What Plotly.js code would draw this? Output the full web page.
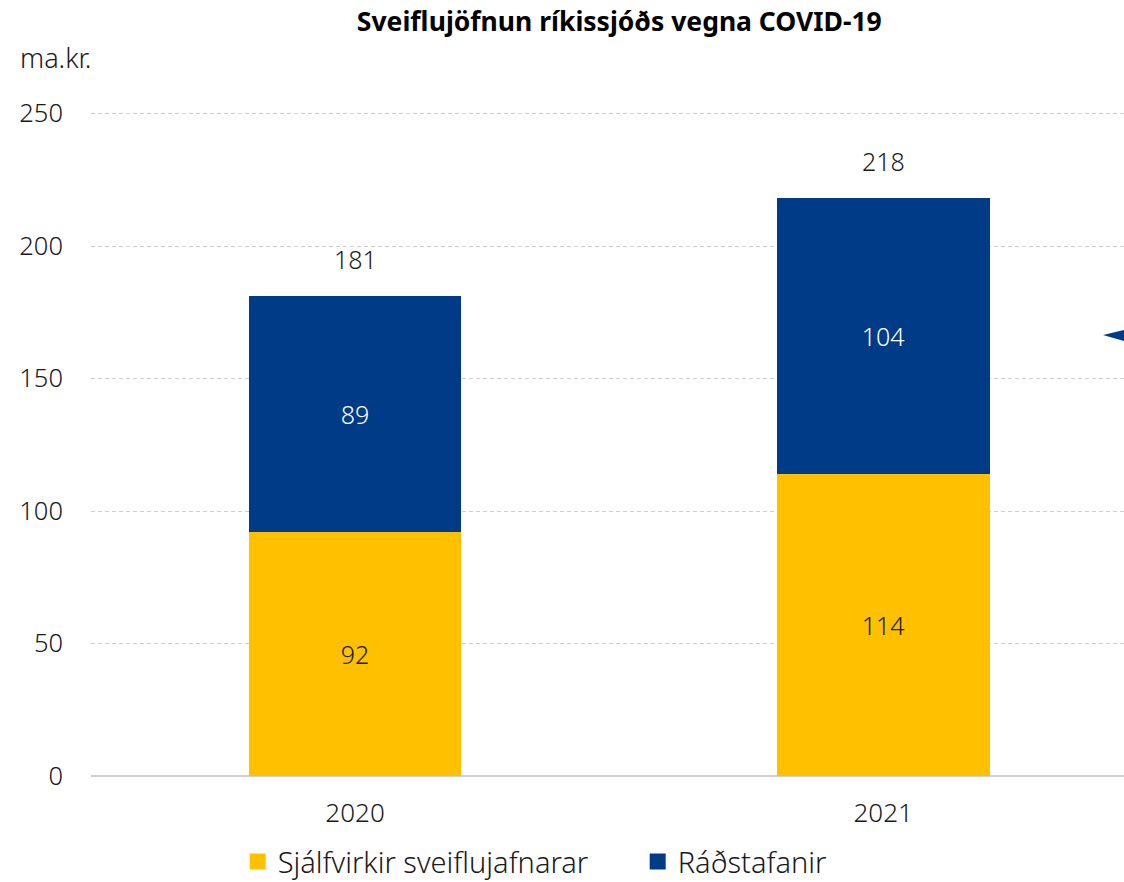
<!DOCTYPE html>
<html>
<head>
<meta charset="utf-8">
<script src="https://cdn.plot.ly/plotly-3.0.1.min.js"></script>
<style>body{margin:0;background:#fff;} #chart{width:1124px;height:882px;}</style>
</head>
<body>
<div id="chart"></div>
<script>
const years = ["2020", "2021"];
const sjalfvirkir = [92, 114];
const radstafanir = [89, 104];
const totals = [181, 218];
const seriesNames = ["Sjálfvirkir sveiflujafnarar", "Ráðstafanir"];
const seriesColors = ["#FFC000", "#003B87"];
const yTicks = [0, 50, 100, 150, 200, 250];

const FONT = "Noto Sans, Open Sans, sans-serif";
const TXT = "#1a1a1a";

const traces = [
  {
    type: "bar", name: seriesNames[0], x: years, y: sjalfvirkir,
    marker: {color: seriesColors[0]}, showlegend: false,
    text: sjalfvirkir.map(String), textposition: "inside", insidetextanchor: "middle",
    textfont: {color: TXT, size: 25, family: FONT, weight: 300},
    hoverinfo: "none"
  },
  {
    type: "bar", name: seriesNames[1], x: years, y: radstafanir,
    marker: {color: seriesColors[1]}, showlegend: false,
    text: radstafanir.map(String), textposition: "inside", insidetextanchor: "middle",
    textfont: {color: "#ffffff", size: 25, family: FONT, weight: 300},
    hoverinfo: "none"
  }
];
// legend entries (square swatches)
seriesNames.forEach((nm, i) => {
  traces.push({
    type: "scatter", mode: "markers", name: nm, x: [null], y: [null],
    marker: {symbol: "square", size: 17, color: seriesColors[i]},
    hoverinfo: "none", showlegend: true
  });
});

const annotations = years.map((yr, i) => ({
  x: i, y: totals[i], xref: "x", yref: "y", text: String(totals[i]),
  showarrow: false, yanchor: "middle", yshift: 37,
  font: {size: 25, color: TXT, family: FONT, weight: 300}
}));
annotations.push({
  x: -0.071, y: 1.083, xref: "paper", yref: "paper", xanchor: "left", yanchor: "middle",
  text: "ma.kr.", showarrow: false,
  font: {size: 27, color: TXT, family: FONT, weight: 300}
});

const topTick = yTicks[yTicks.length - 1];

const layout = {
  width: 1124, height: 882,
  margin: {l: 91, r: 0, t: 113, b: 106, autoexpand: false},
  paper_bgcolor: "#ffffff", plot_bgcolor: "#ffffff",
  barmode: "stack", bargap: 0.597,
  title: {
    text: "<b>Sveiflujöfnun ríkissjóðs vegna COVID-19</b>",
    x: 0.551, xanchor: "center", y: 0.975, yanchor: "middle",
    font: {size: 26.5, color: "#000000", family: FONT}
  },
  xaxis: {
    range: [-0.5, 1.456], type: "category",
    showgrid: false, zeroline: false, showline: false,
    ticks: "", tickfont: {size: 26, color: TXT, family: FONT, weight: 300},
    ticklabelstandoff: 19
  },
  yaxis: {
    range: [0, 250.2], tickvals: yTicks, ticktext: yTicks.map(String),
    showgrid: true, gridcolor: "#cfcfcf", griddash: "4px,3px", gridwidth: 1,
    zeroline: true, zerolinecolor: "#d0d0d0", zerolinewidth: 2,
    showline: false, ticks: "",
    tickfont: {size: 25.5, color: TXT, family: FONT, weight: 300},
    ticklabelstandoff: 27
  },
  showlegend: true,
  legend: {
    orientation: "h", traceorder: "normal",
    x: 0.142, xanchor: "left", y: -0.129, yanchor: "middle",
    font: {size: 29, color: TXT, family: FONT, weight: 300},
    entrywidthmode: "pixels", entrywidth: 355, bgcolor: "rgba(0,0,0,0)"
  },
  shapes: [
    {
      type: "line", xref: "paper", yref: "y", x0: 0, x1: 1, y0: topTick, y1: topTick,
      line: {color: "#cfcfcf", width: 1, dash: "4px,3px"}, layer: "below"
    },
    {
      type: "path", xref: "paper", yref: "paper",
      path: "M 0.9797 0.6652 L 1.0 0.6727 L 1.0 0.6561 Z",
      fillcolor: "#003B87", line: {width: 0}
    }
  ],
  annotations: annotations
};

Plotly.newPlot("chart", traces, layout, {displayModeBar: false, staticPlot: true});
</script>
</body>
</html>
